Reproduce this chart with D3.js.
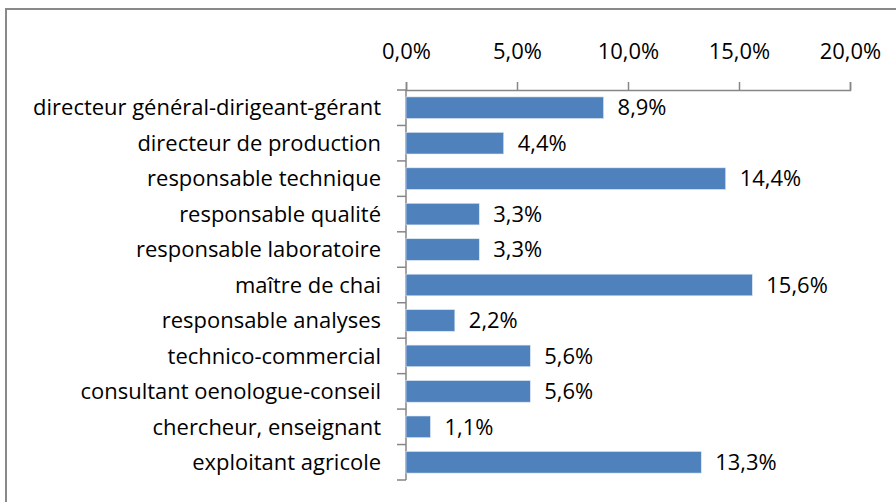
<!DOCTYPE html>
<html><head><meta charset="utf-8">
<script src="https://cdn.jsdelivr.net/npm/d3@7"></script>
<style>
html,body{margin:0;padding:0;background:#fff;}
svg{display:block;}
text{font-family:"Open Sans",sans-serif;fill:#000;}
</style></head>
<body>
<svg id="chart" width="896" height="502"></svg>
<script>
const categories = ["directeur général-dirigeant-gérant","directeur de production","responsable technique","responsable qualité","responsable laboratoire","maître de chai","responsable analyses","technico-commercial","consultant oenologue-conseil","chercheur, enseignant","exploitant agricole"];
const values = [8.9, 4.4, 14.4, 3.3, 3.3, 15.6, 2.2, 5.6, 5.6, 1.1, 13.3];
const tickValues = [0, 5, 10, 15, 20];

const svg = d3.select("#chart");
const fmt = v => v.toFixed(1).replace(".", ",") + "%";

// font size fitted so the longest category label spans ~348px like the reference
const probe = svg.append("text").attr("font-size", 20).text(categories[0]);
const w20 = probe.node().getComputedTextLength();
probe.remove();
const fs = 20 * 348 / w20;

// outer border
svg.append("rect").attr("x", 6).attr("y", 9).attr("width", 900).attr("height", 510)
  .attr("fill", "none").attr("stroke", "#898989").attr("stroke-width", 2);

const x = d3.scaleLinear().domain([0, 20]).range([406, 850]);
const y = d3.scaleBand().domain(categories).range([90, 480]).paddingInner(0.39).paddingOuter(0.195);

// top axis
const xAxis = d3.axisTop(x).tickValues(tickValues).tickSize(8).tickPadding(23).tickFormat(fmt);
const gx = svg.append("g").attr("transform", "translate(0,90)").call(xAxis);
gx.select(".domain").attr("stroke", "#868686").attr("stroke-width", 1.5);
gx.selectAll(".tick line").attr("stroke", "#868686").attr("stroke-width", 1.5);
gx.selectAll(".tick text").attr("font-size", fs).attr("font-family", "Open Sans").attr("fill", "#000");

// left axis line with category boundary ticks
const yEdges = d3.range(categories.length + 1).map(i => 90 + i * (390 / categories.length));
svg.append("line").attr("x1", 406).attr("x2", 406).attr("y1", 90).attr("y2", 480)
  .attr("stroke", "#868686").attr("stroke-width", 1.5);
svg.selectAll(".ytick").data(yEdges).enter().append("line")
  .attr("x1", 397).attr("x2", 406).attr("y1", d => d).attr("y2", d => d)
  .attr("stroke", "#868686").attr("stroke-width", 1.5);

// bars
svg.selectAll(".bar").data(values).enter().append("rect")
  .attr("x", x(0)).attr("y", (d, i) => y(categories[i]))
  .attr("width", d => x(d) - x(0)).attr("height", y.bandwidth())
  .attr("fill", "#4F81BD").attr("stroke", "#dfe8f3").attr("stroke-width", 0.6);

// category labels
svg.selectAll(".cat").data(categories).enter().append("text")
  .attr("x", 381).attr("y", d => y(d) + y.bandwidth() / 2)
  .attr("dy", "0.35em").attr("text-anchor", "end").attr("font-size", fs).text(d => d);

// value labels
svg.selectAll(".val").data(values).enter().append("text")
  .attr("x", d => x(d) + 14).attr("y", (d, i) => y(categories[i]) + y.bandwidth() / 2)
  .attr("dy", "0.35em").attr("font-size", fs).text(d => fmt(d));
</script>
</body></html>
